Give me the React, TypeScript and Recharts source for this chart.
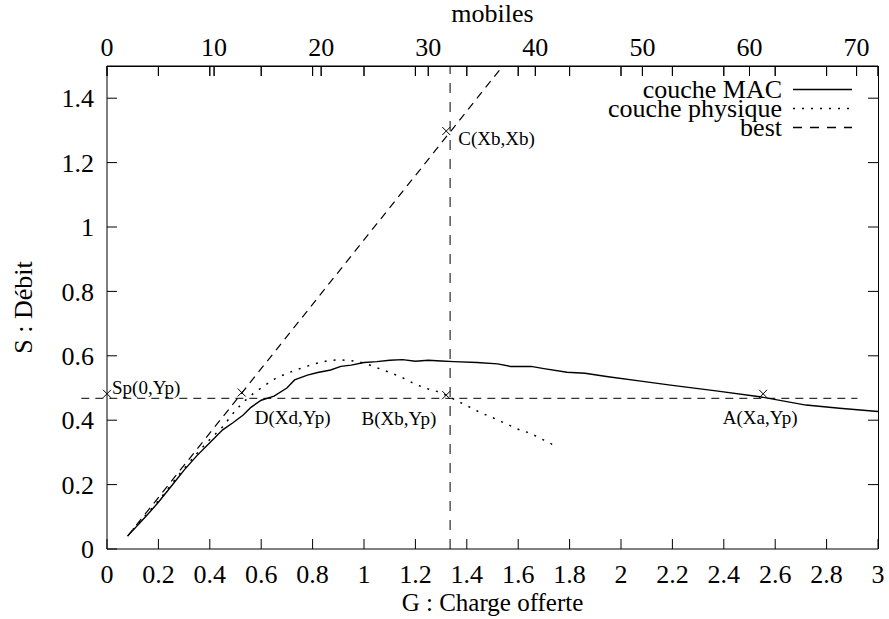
import React from "react";
import { ComposedChart, Line, Scatter, XAxis, YAxis, ReferenceLine, Legend, Label } from "recharts";

// axis ticks
const gTicks = [0, 0.2, 0.4, 0.6, 0.8, 1, 1.2, 1.4, 1.6, 1.8, 2, 2.2, 2.4, 2.6, 2.8, 3];
const sTicks = [0, 0.2, 0.4, 0.6, 0.8, 1, 1.2, 1.4];
const mobileTicks = [0, 10, 20, 30, 40, 50, 60, 70];
const mobilesPerG = 24; // top axis: number of mobiles for one unit of G

// couche MAC (solid)
const macG = [0.08, 0.15, 0.2, 0.25, 0.3, 0.35, 0.4, 0.45, 0.49, 0.53, 0.56, 0.6, 0.65, 0.7, 0.73, 0.78, 0.82, 0.87, 0.91, 0.95, 1.0, 1.05, 1.1, 1.15, 1.2, 1.25, 1.3, 1.35, 1.44, 1.52, 1.57, 1.65, 1.7, 1.79, 1.86, 1.95, 2.07, 2.2, 2.37, 2.54, 2.72, 2.85, 3.0];
const macS = [0.04, 0.1, 0.145, 0.195, 0.245, 0.29, 0.33, 0.37, 0.392, 0.416, 0.44, 0.462, 0.475, 0.5, 0.525, 0.54, 0.548, 0.556, 0.567, 0.571, 0.579, 0.582, 0.586, 0.588, 0.583, 0.586, 0.584, 0.582, 0.579, 0.575, 0.567, 0.567, 0.56, 0.549, 0.546, 0.535, 0.522, 0.508, 0.491, 0.473, 0.447, 0.437, 0.427];

// couche physique (dotted)
const phyG = [0.1, 0.2, 0.3, 0.4, 0.45, 0.5, 0.55, 0.6, 0.65, 0.7, 0.75, 0.8, 0.85, 0.9, 0.95, 1.0, 1.05, 1.1, 1.15, 1.2, 1.25, 1.3, 1.35, 1.4, 1.45, 1.5, 1.55, 1.6, 1.65, 1.7, 1.75];
const phyS = [0.06, 0.15, 0.25, 0.34, 0.38, 0.43, 0.47, 0.5, 0.527, 0.545, 0.56, 0.573, 0.583, 0.587, 0.585, 0.577, 0.563, 0.548, 0.532, 0.512, 0.497, 0.485, 0.465, 0.445, 0.425, 0.408, 0.39, 0.372, 0.358, 0.338, 0.318];

// best (dashed)
const bestG = [0.08, 1.54];
const bestS = [0.04, 1.5];

// reference levels
const ypLevel = 0.468;
const ypFrom = -0.1;
const ypTo = 2.92;
const xbLevel = 1.335;

// marked points
const markNames = ["Sp(0,Yp)", "D(Xd,Yp)", "B(Xb,Yp)", "C(Xb,Xb)", "A(Xa,Yp)"];
const markG = [0, 0.524, 1.32, 1.32, 2.553];
const markS = [0.482, 0.486, 0.478, 1.298, 0.482];

const seriesNames = ["couche MAC", "couche physique", "best"];

const G_MAX = 3;
const S_MAX = 1.5;

const macData = macG.map((g, i) => ({ G: g, S: macS[i] }));
const phyData = phyG.map((g, i) => ({ G: g, S: phyS[i] }));
const bestData = bestG.map((g, i) => ({ G: g, S: bestS[i] }));
const markData = markG.map((g, i) => ({ G: g, S: markS[i], name: markNames[i] }));

// top border carries both the mirrored G ticks and the mobiles ticks
const mobileTicksG = mobileTicks.map((m) => m / mobilesPerG);
const topTicks = Array.from(new Set([...gTicks, ...mobileTicksG])).sort((a, b) => a - b);

const FONT = "Liberation Serif";
const FS = 26;
const tickStyle = { fill: "#000", fontSize: FS, fontFamily: FONT };

// chart layout (plot box in pixels)
const W = 889;
const H = 619;
const PLOT = { left: 107, right: 878, top: 66, bottom: 549 };
const TICK = 10;

// label placement next to each cross
const labelPlacement: Record<string, { dx: number; dy: number; anchor: "start" | "middle" | "end" }> = {
  "Sp(0,Yp)": { dx: 5, dy: -6, anchor: "start" },
  "D(Xd,Yp)": { dx: 13, dy: 25, anchor: "start" },
  "B(Xb,Yp)": { dx: -10, dy: 23, anchor: "end" },
  "C(Xb,Xb)": { dx: 12, dy: 7, anchor: "start" },
  "A(Xa,Yp)": { dx: -3, dy: 24, anchor: "middle" },
};

const lineDash: Record<string, string | undefined> = {
  "couche MAC": undefined,
  "couche physique": "2 7",
  best: "9 8",
};

const MarkShape = (props: any) => {
  const { cx, cy, payload } = props;
  const p = labelPlacement[payload.name];
  const r = 4;
  return (
    <g>
      <line x1={cx - r} y1={cy - r} x2={cx + r} y2={cy + r} stroke="#000" strokeWidth={1} />
      <line x1={cx - r} y1={cy + r} x2={cx + r} y2={cy - r} stroke="#000" strokeWidth={1} />
      <text x={cx + p.dx} y={cy + p.dy} textAnchor={p.anchor} dominantBaseline="central" fontFamily={FONT} fontSize={19} fill="#000">
        {payload.name}
      </text>
    </g>
  );
};

// only the mobiles ticks get a label on the top border
const TopTick = (props: any) => {
  const { x, y, payload } = props;
  const v = payload.value;
  const isMobile = mobileTicksG.some((m) => Math.abs(m - v) < 1e-9);
  if (!isMobile) return <g />;
  return (
    <text x={x} y={y} textAnchor="middle" fontFamily={FONT} fontSize={FS} fill="#000">
      {Math.round(v * mobilesPerG)}
    </text>
  );
};

// top and right border of the gnuplot-style box, with inward mirrored ticks
const BorderOverlay = () => {
  const px = (g: number) => PLOT.left + (g / G_MAX) * (PLOT.right - PLOT.left);
  const py = (s: number) => PLOT.bottom - (s / S_MAX) * (PLOT.bottom - PLOT.top);
  return (
    <svg width={W} height={H} style={{ position: "absolute", left: 0, top: 0, pointerEvents: "none" }}>
      <line x1={PLOT.left} y1={PLOT.top + 0.5} x2={PLOT.right + 0.5} y2={PLOT.top + 0.5} stroke="#000" strokeWidth={1} />
      <line x1={PLOT.right + 0.5} y1={PLOT.top} x2={PLOT.right + 0.5} y2={PLOT.bottom} stroke="#000" strokeWidth={1} />
      {topTicks.map((t) => (
        <line key={`t${t}`} x1={px(t)} y1={PLOT.top} x2={px(t)} y2={PLOT.top + TICK} stroke="#000" strokeWidth={1} />
      ))}
      {sTicks.slice(1).map((s) => (
        <line key={`r${s}`} x1={PLOT.right} y1={py(s)} x2={PLOT.right - TICK} y2={py(s)} stroke="#000" strokeWidth={1} />
      ))}
    </svg>
  );
};

const LegendBox = () => (
  <div style={{ fontFamily: FONT, fontSize: 26, color: "#000" }}>
    {seriesNames.map((name) => (
      <div key={name} style={{ display: "flex", alignItems: "center", justifyContent: "flex-end", height: 19 }}>
        <span style={{ lineHeight: "19px", whiteSpace: "nowrap" }}>{name}</span>
        <svg width={70} height={19}>
          <line x1={11} x2={70} y1={9.5} y2={9.5} stroke="#000" strokeWidth={1.3} strokeDasharray={lineDash[name]} />
        </svg>
      </div>
    ))}
  </div>
);

const fmtG = (v: number) => String(Math.round(v * 10) / 10);

export default function App() {
  return (
    <div style={{ position: "absolute", left: 0, top: 0, width: W, height: H, background: "#fff" }}>
      <ComposedChart width={W} height={H} margin={{ top: 0, right: W - PLOT.right, left: 0, bottom: 0 }}>
        <XAxis
          xAxisId="g"
          dataKey="G"
          type="number"
          domain={[0, G_MAX]}
          ticks={gTicks}
          interval={0}
          tickFormatter={fmtG}
          height={H - PLOT.bottom}
          stroke="#000"
          tickSize={-TICK}
          tickMargin={26}
          tick={tickStyle}
        >
          <Label
            content={(props: any) => {
              const vb = props.viewBox;
              return (
                <text x={vb.x + vb.width / 2} y={vb.y + 62} textAnchor="middle" fontFamily={FONT} fontSize={25} fill="#000">
                  G : Charge offerte
                </text>
              );
            }}
          />
        </XAxis>
        <XAxis
          xAxisId="top"
          dataKey="G"
          orientation="top"
          type="number"
          domain={[0, G_MAX]}
          ticks={topTicks}
          interval={0}
          height={PLOT.top}
          stroke="#000"
          tickSize={-TICK}
          tickMargin={20}
          tick={<TopTick />}
        >
          <Label
            content={(props: any) => {
              const vb = props.viewBox;
              return (
                <text x={vb.x + vb.width / 2} y={22} textAnchor="middle" fontFamily={FONT} fontSize={FS} fill="#000">
                  mobiles
                </text>
              );
            }}
          />
        </XAxis>
        <YAxis
          yAxisId="s"
          dataKey="S"
          type="number"
          domain={[0, S_MAX]}
          ticks={sTicks}
          interval={0}
          width={PLOT.left}
          stroke="#000"
          tickSize={-TICK}
          tickMargin={23}
          tick={tickStyle}
        >
          <Label
            content={(props: any) => {
              const vb = props.viewBox;
              const cy = vb.y + vb.height / 2;
              return (
                <text x={23} y={cy} transform={`rotate(-90, 23, ${cy})`} textAnchor="middle" dominantBaseline="central" fontFamily={FONT} fontSize={FS} fill="#000">
                  S : Débit
                </text>
              );
            }}
          />
        </YAxis>
        <ReferenceLine
          xAxisId="g"
          yAxisId="s"
          segment={[{ x: ypFrom, y: ypLevel }, { x: ypTo, y: ypLevel }]}
          ifOverflow="visible"
          stroke="#000"
          strokeWidth={1}
          strokeDasharray="8 6"
        />
        <ReferenceLine xAxisId="g" yAxisId="s" x={xbLevel} stroke="#000" strokeWidth={1} strokeDasharray="10 9" />
        <Line xAxisId="top" yAxisId="s" data={bestData} dataKey="S" name="best" type="linear" stroke="#000" strokeWidth={1.2} strokeDasharray="8 6" dot={false} isAnimationActive={false} />
        <Line xAxisId="g" yAxisId="s" data={phyData} dataKey="S" name="couche physique" type="monotone" stroke="#000" strokeWidth={1.5} strokeDasharray="2 7" dot={false} isAnimationActive={false} />
        <Line xAxisId="g" yAxisId="s" data={macData} dataKey="S" name="couche MAC" type="linear" stroke="#000" strokeWidth={1.4} dot={false} isAnimationActive={false} />
        <Scatter xAxisId="g" yAxisId="s" data={markData} dataKey="S" shape={(p: any) => <MarkShape {...p} />} legendType="none" isAnimationActive={false} />
        <Legend
          layout="vertical"
          align="center"
          verticalAlign="middle"
          wrapperStyle={{ left: 552, top: 80, width: 300 }}
          content={() => <LegendBox />}
        />
      </ComposedChart>
      <BorderOverlay />
    </div>
  );
}
